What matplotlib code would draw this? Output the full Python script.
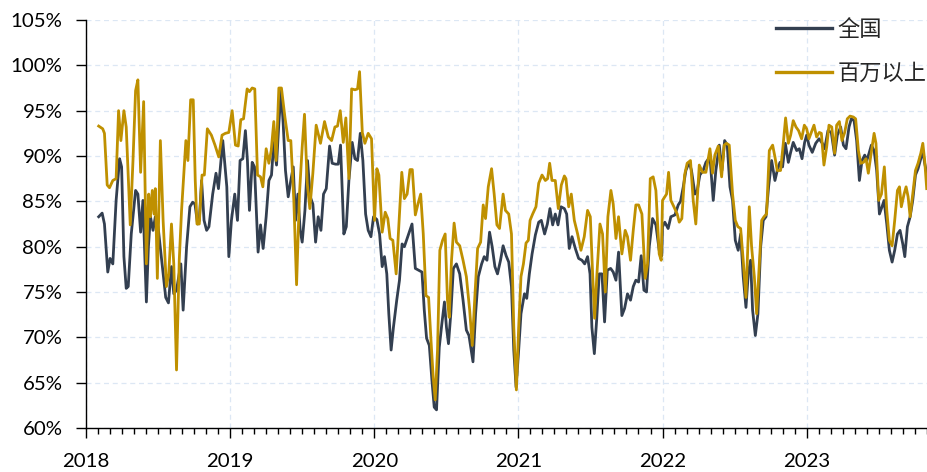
import matplotlib
matplotlib.use("Agg")
import matplotlib.pyplot as plt
from matplotlib.ticker import MultipleLocator, FuncFormatter

# weekly utilisation ratio (%), x given as decimal year
nat_year = [
    2018.088, 2018.112, 2018.128, 2018.151, 2018.167, 2018.186, 2018.209, 2018.233, 2018.247, 2018.263,
    2018.279, 2018.293, 2018.314, 2018.344, 2018.360, 2018.379, 2018.395, 2018.419, 2018.433, 2018.447,
    2018.465, 2018.481, 2018.500, 2018.530, 2018.553, 2018.572, 2018.593, 2018.609, 2018.628, 2018.658,
    2018.674, 2018.698, 2018.721, 2018.740, 2018.756, 2018.774, 2018.786, 2018.802, 2018.819, 2018.837,
    2018.853, 2018.879, 2018.902, 2018.919, 2018.949, 2018.977, 2018.991,
    2019.009, 2019.032, 2019.051, 2019.069, 2019.088, 2019.106, 2019.120, 2019.134, 2019.153, 2019.169,
    2019.181, 2019.194, 2019.211, 2019.229, 2019.250, 2019.269, 2019.287, 2019.303, 2019.322, 2019.338,
    2019.354, 2019.368, 2019.384, 2019.403, 2019.421, 2019.438, 2019.454, 2019.470, 2019.486, 2019.500,
    2019.519, 2019.537, 2019.556, 2019.574, 2019.593, 2019.611, 2019.630, 2019.648, 2019.667, 2019.690,
    2019.708, 2019.731, 2019.750, 2019.766, 2019.789, 2019.806, 2019.824, 2019.847, 2019.866, 2019.884,
    2019.903, 2019.921, 2019.940, 2019.958, 2019.977, 2019.995,
    2020.018, 2020.037, 2020.055, 2020.071, 2020.087, 2020.101, 2020.117, 2020.133, 2020.156, 2020.175,
    2020.193, 2020.209, 2020.232, 2020.262, 2020.285, 2020.308, 2020.331, 2020.347, 2020.363, 2020.382,
    2020.400, 2020.416, 2020.432, 2020.451, 2020.469, 2020.487, 2020.501, 2020.515, 2020.531, 2020.549,
    2020.570, 2020.593, 2020.616, 2020.639, 2020.657, 2020.685, 2020.703, 2020.722, 2020.745, 2020.763,
    2020.782, 2020.800, 2020.818, 2020.837, 2020.855, 2020.876, 2020.894, 2020.915, 2020.933, 2020.952,
    2020.968, 2020.984,
    2021.002, 2021.018, 2021.042, 2021.058, 2021.076, 2021.095, 2021.118, 2021.141, 2021.159, 2021.182,
    2021.201, 2021.219, 2021.238, 2021.256, 2021.275, 2021.296, 2021.319, 2021.335, 2021.353, 2021.372,
    2021.395, 2021.418, 2021.441, 2021.460, 2021.480, 2021.497, 2021.510, 2021.527, 2021.543, 2021.561,
    2021.580, 2021.598, 2021.617, 2021.640, 2021.658, 2021.677, 2021.695, 2021.718, 2021.737, 2021.757,
    2021.778, 2021.797, 2021.815, 2021.834, 2021.852, 2021.871, 2021.889, 2021.908, 2021.931, 2021.954,
    2021.977, 2021.995,
    2022.000, 2022.016, 2022.039, 2022.058, 2022.086, 2022.109, 2022.125, 2022.144, 2022.162, 2022.185,
    2022.201, 2022.225, 2022.241, 2022.259, 2022.282, 2022.301, 2022.329, 2022.352, 2022.370, 2022.394,
    2022.412, 2022.431, 2022.449, 2022.468, 2022.486, 2022.505, 2022.525, 2022.542, 2022.560, 2022.579,
    2022.595, 2022.611, 2022.625, 2022.644, 2022.662, 2022.681, 2022.699, 2022.718, 2022.736, 2022.757,
    2022.780, 2022.796, 2022.815, 2022.833, 2022.852, 2022.873, 2022.889, 2022.907, 2022.931, 2022.949,
    2022.968, 2022.986,
    2023.000, 2023.016, 2023.039, 2023.063, 2023.086, 2023.109, 2023.125, 2023.148, 2023.171, 2023.194,
    2023.213, 2023.236, 2023.255, 2023.273, 2023.294, 2023.310, 2023.329, 2023.347, 2023.366, 2023.384,
    2023.403, 2023.417, 2023.433, 2023.449, 2023.468, 2023.486, 2023.505, 2023.523, 2023.537, 2023.556,
    2023.574, 2023.593, 2023.611, 2023.630, 2023.648, 2023.667, 2023.681, 2023.699, 2023.718, 2023.736,
    2023.755, 2023.773, 2023.792, 2023.806, 2023.819, 2023.833,
]
nat_val = [
    83.3, 83.7, 82.5, 77.2, 78.7, 78.1, 85.1, 89.7, 88.8, 78.9,
    75.4, 75.6, 81.4, 86.2, 85.8, 81.6, 85.1, 73.9, 80.0, 83.3,
    81.8, 83.3, 82.2, 77.8, 74.4, 73.8, 77.8, 74.8, 75.2, 78.1,
    73.0, 80.0, 84.4, 84.9, 84.7, 82.5, 82.9, 87.3, 82.9, 81.8,
    82.2, 85.8, 88.1, 86.4, 91.7, 86.6, 78.9,
    82.9, 85.8, 82.9, 89.5, 89.7, 92.8, 89.5, 84.0, 89.3, 88.8,
    84.4, 79.4, 82.4, 79.8, 83.3, 87.3, 87.9, 91.5, 89.0, 93.6,
    97.2, 93.6, 88.4, 85.5, 87.3, 88.8, 82.9, 85.8, 81.8, 80.5,
    84.0, 89.5, 85.5, 84.7, 80.5, 83.3, 81.8, 85.8, 86.4, 91.1,
    89.2, 89.1, 89.1, 91.2, 81.4, 82.2, 87.3, 91.5, 89.7, 89.5,
    92.5, 89.5, 83.6, 81.8, 81.1, 83.3,
    83.0, 81.4, 77.8, 78.9, 77.0, 72.6, 68.6, 71.1, 74.1, 76.3,
    80.3, 80.0, 81.1, 82.5, 77.6, 77.4, 77.2, 73.0, 69.9, 69.1,
    65.3, 62.3, 62.0, 68.9, 71.5, 73.9, 71.1, 69.3, 72.6, 77.6,
    78.1, 77.0, 74.1, 70.8, 70.2, 67.3, 72.6, 76.7, 78.1, 78.9,
    78.5, 81.6, 80.0, 77.8, 77.0, 78.5, 80.1, 79.0, 78.3, 75.6,
    68.6, 64.5,
    68.6, 72.6, 74.8, 74.3, 77.0, 79.2, 81.3, 82.7, 82.9, 81.4,
    82.5, 84.2, 82.4, 83.6, 82.4, 84.4, 84.2, 83.6, 79.8, 81.1,
    79.8, 78.7, 78.5, 78.1, 78.9, 77.0, 71.1, 68.2, 71.9, 77.0,
    77.0, 71.7, 77.4, 77.6, 77.2, 76.3, 79.4, 72.4, 73.2, 74.8,
    74.1, 75.6, 76.3, 76.1, 79.0, 75.2, 75.0, 80.0, 83.1, 82.4,
    79.6, 79.0,
    82.2, 82.7, 82.0, 83.3, 83.5, 84.6, 85.0, 86.6, 88.4, 89.3,
    88.4, 85.8, 86.2, 87.9, 88.4, 89.3, 89.9, 85.1, 88.4, 91.2,
    88.4, 91.7, 91.2, 86.6, 85.1, 80.7, 79.6, 81.4, 76.7, 73.3,
    77.0, 78.5, 73.0, 70.2, 72.6, 80.0, 82.9, 83.3, 86.6, 89.5,
    87.3, 88.4, 89.3, 88.8, 91.4, 89.3, 90.4, 91.5, 90.6, 90.8,
    89.7, 91.5,
    92.3, 91.2, 90.4, 91.4, 91.9, 91.4, 90.8, 92.8, 92.6, 90.1,
    92.3, 93.2, 91.2, 90.8, 93.2, 94.1, 93.9, 91.7, 87.3, 89.5,
    90.1, 89.5, 90.3, 91.2, 90.6, 88.4, 83.6, 84.4, 85.1, 82.5,
    79.6, 78.3, 79.6, 81.4, 81.8, 80.3, 78.9, 82.2, 83.3, 85.1,
    87.9, 88.6, 89.7, 90.6, 89.2, 88.1,
]

mil_year = [
    2018.088, 2018.116, 2018.128, 2018.147, 2018.163, 2018.186, 2018.209, 2018.226, 2018.242, 2018.263,
    2018.279, 2018.307, 2018.326, 2018.344, 2018.360, 2018.379, 2018.400, 2018.419, 2018.435, 2018.447,
    2018.460, 2018.472, 2018.481, 2018.495, 2018.516, 2018.535, 2018.558, 2018.574, 2018.593, 2018.609,
    2018.628, 2018.647, 2018.663, 2018.693, 2018.707, 2018.726, 2018.744, 2018.758, 2018.770, 2018.786,
    2018.805, 2018.821, 2018.842, 2018.870, 2018.895, 2018.921, 2018.944, 2018.967, 2018.991,
    2019.014, 2019.037, 2019.056, 2019.074, 2019.093, 2019.118, 2019.134, 2019.153, 2019.171, 2019.190,
    2019.211, 2019.227, 2019.250, 2019.269, 2019.285, 2019.303, 2019.319, 2019.338, 2019.356, 2019.380,
    2019.403, 2019.421, 2019.442, 2019.461, 2019.481, 2019.500, 2019.516, 2019.535, 2019.553, 2019.574,
    2019.597, 2019.627, 2019.655, 2019.681, 2019.704, 2019.727, 2019.745, 2019.764, 2019.785, 2019.803,
    2019.824, 2019.843, 2019.866, 2019.884, 2019.898, 2019.917, 2019.935, 2019.958, 2019.981,
    2020.002, 2020.018, 2020.032, 2020.055, 2020.076, 2020.094, 2020.110, 2020.129, 2020.152, 2020.170,
    2020.191, 2020.209, 2020.228, 2020.248, 2020.264, 2020.285, 2020.303, 2020.322, 2020.340, 2020.359,
    2020.377, 2020.395, 2020.409, 2020.423, 2020.439, 2020.455, 2020.474, 2020.492, 2020.508, 2020.520,
    2020.536, 2020.554, 2020.570, 2020.593, 2020.616, 2020.639, 2020.662, 2020.680, 2020.699, 2020.717,
    2020.738, 2020.756, 2020.772, 2020.791, 2020.814, 2020.832, 2020.851, 2020.869, 2020.894, 2020.910,
    2020.933, 2020.952, 2020.968, 2020.986,
    2021.002, 2021.018, 2021.035, 2021.053, 2021.069, 2021.081, 2021.099, 2021.122, 2021.141, 2021.164,
    2021.187, 2021.203, 2021.217, 2021.233, 2021.256, 2021.277, 2021.298, 2021.319, 2021.330, 2021.349,
    2021.367, 2021.388, 2021.411, 2021.434, 2021.457, 2021.480, 2021.499, 2021.515, 2021.529, 2021.545,
    2021.566, 2021.584, 2021.603, 2021.621, 2021.642, 2021.658, 2021.677, 2021.695, 2021.718, 2021.741,
    2021.757, 2021.778, 2021.797, 2021.815, 2021.834, 2021.857, 2021.880, 2021.896, 2021.915, 2021.935,
    2021.954, 2021.977, 2021.991,
    2022.000, 2022.016, 2022.028, 2022.042, 2022.058, 2022.079, 2022.102, 2022.116, 2022.134, 2022.153,
    2022.171, 2022.194, 2022.213, 2022.231, 2022.255, 2022.278, 2022.301, 2022.329, 2022.347, 2022.363,
    2022.387, 2022.410, 2022.428, 2022.444, 2022.463, 2022.486, 2022.505, 2022.523, 2022.542, 2022.560,
    2022.579, 2022.602, 2022.618, 2022.637, 2022.653, 2022.671, 2022.688, 2022.704, 2022.722, 2022.741,
    2022.764, 2022.780, 2022.796, 2022.819, 2022.838, 2022.854, 2022.873, 2022.889, 2022.907, 2022.926,
    2022.944, 2022.965, 2022.984,
    2023.000, 2023.016, 2023.032, 2023.051, 2023.069, 2023.088, 2023.102, 2023.120, 2023.139, 2023.155,
    2023.174, 2023.194, 2023.208, 2023.227, 2023.245, 2023.264, 2023.282, 2023.301, 2023.324, 2023.340,
    2023.359, 2023.375, 2023.394, 2023.412, 2023.428, 2023.444, 2023.468, 2023.481, 2023.500, 2023.519,
    2023.539, 2023.556, 2023.574, 2023.593, 2023.611, 2023.630, 2023.644, 2023.657, 2023.676, 2023.690,
    2023.704, 2023.718, 2023.736, 2023.755, 2023.773, 2023.792, 2023.806, 2023.819, 2023.833,
]
mil_val = [
    93.3, 93.0, 92.5, 86.8, 86.5, 87.3, 87.5, 95.0, 91.7, 95.0,
    93.2, 82.4, 89.5, 97.2, 98.4, 88.2, 96.0, 78.1, 85.8, 83.3,
    86.2, 83.6, 86.4, 76.5, 91.7, 82.9, 75.6, 77.0, 82.5, 78.1,
    66.4, 78.5, 84.0, 91.7, 89.5, 96.2, 96.2, 87.3, 82.5, 82.5,
    87.9, 87.9, 93.0, 92.3, 91.2, 89.9, 92.3, 92.5, 92.6,
    95.0, 91.2, 91.1, 94.0, 94.1, 97.4, 97.1, 97.5, 97.4, 87.9,
    87.7, 86.6, 90.8, 89.2, 90.6, 93.8, 89.5, 97.5, 97.5, 94.3,
    91.7, 91.7, 85.1, 75.8, 85.8, 91.0, 94.6, 87.0, 84.2, 88.1,
    93.4, 91.4, 93.8, 92.1, 91.7, 93.2, 93.3, 95.0, 91.5, 94.2,
    87.5, 97.4, 97.3, 97.4, 99.3, 92.6, 91.4, 92.5, 91.9,
    82.9, 88.6, 87.9, 81.6, 83.8, 83.1, 80.9, 80.7, 77.0, 82.2,
    88.2, 85.3, 85.8, 88.5, 88.5, 83.5, 84.7, 85.8, 81.4, 74.6,
    74.4, 69.3, 65.6, 63.1, 68.6, 79.6, 80.7, 81.4, 74.1, 72.2,
    78.5, 82.6, 80.5, 80.1, 78.5, 76.7, 73.0, 69.1, 74.8, 79.8,
    80.5, 84.6, 83.1, 86.6, 88.6, 85.8, 82.4, 82.0, 85.8, 84.0,
    83.6, 81.4, 71.1, 64.2,
    71.1, 76.7, 78.1, 80.4, 80.7, 82.9, 83.6, 84.4, 87.0, 87.9,
    87.3, 87.5, 89.2, 87.3, 87.3, 84.2, 86.8, 87.8, 87.5, 84.4,
    85.8, 82.9, 81.4, 79.6, 81.1, 84.0, 83.3, 77.0, 72.1, 77.0,
    82.5, 81.4, 75.0, 83.3, 86.2, 84.7, 80.9, 83.3, 79.2, 81.8,
    81.1, 78.5, 81.8, 84.6, 84.6, 83.6, 76.5, 78.1, 87.5, 87.7,
    86.2, 79.2, 78.5,
    85.1, 85.5, 85.8, 88.2, 85.1, 84.4, 83.6, 82.7, 83.1, 87.9,
    89.2, 89.5, 85.1, 82.5, 89.0, 88.2, 88.2, 90.8, 88.1, 90.1,
    91.1, 87.7, 91.2, 91.4, 91.2, 85.8, 82.9, 82.2, 82.0, 78.5,
    74.4, 84.4, 80.0, 76.7, 72.6, 77.8, 82.9, 83.3, 83.6, 90.6,
    91.2, 89.9, 88.4, 88.4, 91.4, 94.2, 91.4, 92.3, 93.9, 93.2,
    92.8, 91.9, 93.4,
    93.0, 91.9, 92.6, 93.4, 92.1, 92.6, 92.5, 89.0, 91.0, 93.4,
    93.2, 90.3, 93.4, 93.8, 91.7, 92.6, 94.1, 94.4, 94.3, 94.1,
    90.6, 89.2, 89.3, 89.7, 88.1, 89.9, 92.5, 91.4, 85.1, 85.8,
    88.8, 84.0, 80.7, 80.1, 82.9, 86.2, 86.6, 84.4, 85.8, 86.6,
    85.5, 83.3, 85.8, 88.4, 89.2, 90.3, 91.4, 89.5, 86.4,
]

plt.rcParams['font.family'] = ['Lato', 'Noto Sans CJK SC', 'DejaVu Sans']

fig = plt.figure(figsize=(9.28, 4.72), dpi=100)
ax = fig.add_axes([86/928, 1 - 428/472, 1 - 86/928, (428 - 20)/472])

ax.plot(nat_year, nat_val, color='#333f50', lw=2.0, label='全国', zorder=3)
ax.plot(mil_year, mil_val, color='#bf9000', lw=2.0, label='百万以上', zorder=4)

ax.set_xlim(2018, 2023.842)
ax.set_ylim(60, 105)
ax.yaxis.set_major_locator(MultipleLocator(5))
ax.yaxis.set_major_formatter(FuncFormatter(lambda v, p: f'{v:.0f}%'))
ax.xaxis.set_major_locator(MultipleLocator(1))
ax.xaxis.set_minor_locator(MultipleLocator(1/12))
ax.xaxis.set_major_formatter(FuncFormatter(lambda v, p: f'{int(round(v))}'))

for s in ['top', 'right']:
    ax.spines[s].set_visible(False)
for s in ['left', 'bottom']:
    ax.spines[s].set_color('black')
    ax.spines[s].set_linewidth(1.0)

ax.tick_params(axis='both', which='major', length=7, width=1, labelsize=14.7,
               colors='black', labelcolor='black')
ax.tick_params(axis='x', which='minor', length=4, width=1)
ax.tick_params(axis='x', which='major', pad=11)
ax.tick_params(axis='y', which='major', pad=10)

ax.grid(True, which='major', color='#dce7f4', ls=(0, (4, 3)), lw=0.9)
ax.set_axisbelow(True)

leg = ax.legend(loc='upper right', bbox_to_anchor=(1.0 + 14/928, 1.0 - 2/472), bbox_transform=fig.transFigure,
                frameon=False, prop={'family': ['Noto Sans CJK SC'], 'size': 16},
                handlelength=2.5, handletextpad=0.25, labelspacing=0.95, borderaxespad=0.3)
for t in leg.get_texts():
    t.set_color('#262626')
for h in leg.get_lines():
    h.set_linewidth(2.4)

fig.savefig('out.png', dpi=100)
